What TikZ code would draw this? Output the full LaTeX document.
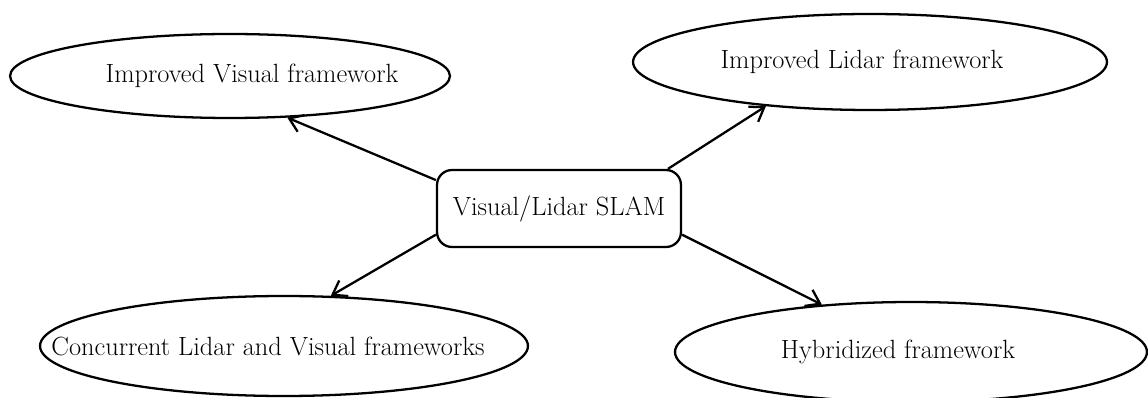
\documentclass[tikz,border=0pt]{standalone}
\usetikzlibrary{shapes.geometric,arrows.meta}
\begin{document}
\begin{tikzpicture}[x=0.02cm,y=-0.02cm,
  every node/.style={font=\fontsize{15}{18}\selectfont},
  oval/.style={draw,ellipse,line width=1.3pt,inner sep=0pt},
  hub/.style={draw,rounded corners=0.3cm,line width=1.3pt,minimum width=4.88cm,minimum height=1.54cm},
  link/.style={line width=1.3pt,-{Straight Barb[length=2.6mm,width=3.6mm]}}]
\useasboundingbox (0,0) rectangle (1148,398);
  % Draw centre box
  \node[hub] (slam) at (559,208.5) {Visual/Lidar SLAM};
  % Draw ellipses
  %top row
  \node[oval,minimum width=8.8cm,minimum height=1.68cm,
        label={[xshift=0.44cm]center:Improved Visual framework}] (vis) at (230,76) {};
  \node[oval,minimum width=9.48cm,minimum height=1.92cm,
        label={[xshift=-0.16cm]center:Improved Lidar framework}] (lid) at (870,62) {};
  %bottom row
  \node[oval,minimum width=9.76cm,minimum height=2cm,
        label={[xshift=-0.32cm]center:Concurrent Lidar and Visual frameworks}] (conc) at (284,346) {};
  \node[oval,minimum width=9.44cm,minimum height=2cm,
        label={[xshift=-0.26cm]center:Hybridized framework}] (hyb) at (911,352) {};
  % Draw arrows
  \draw[link] (slam.167) -- (vis.324);
  \draw[link] (slam.20) -- (lid.203);
  \draw[link] (slam.192) -- (conc.47);
  \draw[link] (slam.348) -- (hyb.152);
\end{tikzpicture}
\end{document}
